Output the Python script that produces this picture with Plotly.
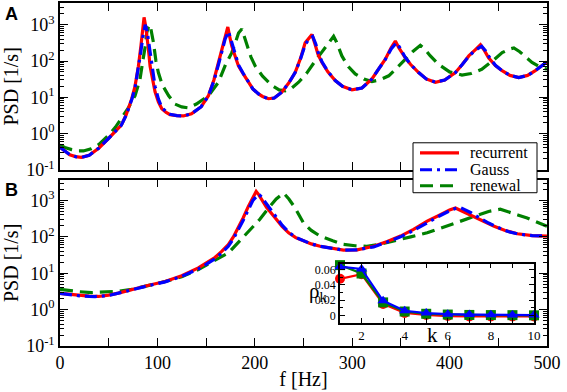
import plotly.graph_objects as go

# ---------------- Panel A data ----------------
fA_rec = [0, 5, 10, 16, 22, 30, 40, 50, 58, 63, 68, 73.6, 77, 80.5, 83, 84.6, 86.3, 88, 89, 90.5, 92.5, 95, 97.6, 101, 104.5, 109, 113, 120, 126.7, 135, 145, 152.4, 158, 162.7, 166, 169.5, 172.3, 174, 176.4, 180, 183.3, 188, 193.5, 198, 203.8, 208, 214, 220, 227.7, 235, 241.4, 247, 251.7, 255, 258.7, 262, 265, 269, 275, 282.6, 290, 299.7, 310, 320.3, 327, 334, 340, 344.3, 348, 354.5, 360, 368.2, 376, 385.4, 395, 406, 413, 419.7, 426, 431.7, 436, 440, 447, 453.9, 462, 471, 480, 488, 495, 500]
pA_rec = [0.42, 0.32, 0.26, 0.23, 0.22, 0.25, 0.40, 0.74, 1.2, 1.7, 3.3, 9, 20, 72, 250, 600, 1600, 900, 600, 250, 72, 28, 14, 7.5, 4.8, 3.8, 3.3, 3.1, 3.05, 3.5, 5.5, 11, 30, 91, 190, 480, 870, 500, 257, 130, 72, 45, 26, 17, 12.3, 10.5, 9.1, 9.5, 13.8, 25, 48, 120, 316, 420, 535, 280, 150, 91, 50, 29, 20, 16, 18, 32, 60, 112, 230, 355, 230, 123, 80, 48, 32, 26, 30, 48, 80, 138, 200, 280, 190, 123, 75, 54, 40, 35, 40, 54, 75, 95]

fA_gau = [0, 5, 10, 16, 22, 30, 40, 50, 58, 63, 68, 73.6, 77, 80.5, 83, 85, 87.5, 89.5, 91, 93, 95, 97.6, 101, 104.5, 109, 113, 120, 126.7, 135, 145, 152.4, 158, 162.7, 166, 169.5, 173, 175, 177, 180, 183.3, 188, 193.5, 198, 203.8, 208, 214, 220, 227.7, 235, 241.4, 247, 251.7, 255, 259.5, 262.5, 265.5, 269, 275, 282.6, 290, 299.7, 310, 320.3, 327, 334, 340, 345.5, 349, 354.5, 360, 368.2, 376, 385.4, 395, 406, 413, 419.7, 426, 433, 437, 441, 447, 453.9, 462, 471, 480, 488, 495, 500]
pA_gau = [0.42, 0.32, 0.26, 0.23, 0.22, 0.25, 0.40, 0.74, 1.2, 1.7, 3.2, 8.5, 18, 60, 180, 450, 1000, 650, 330, 130, 50, 20, 9, 5.2, 4.0, 3.4, 3.1, 3.05, 3.5, 5.5, 11, 28, 80, 170, 400, 650, 420, 260, 140, 78, 46, 26, 17, 12.3, 10.5, 9.1, 9.5, 13.8, 25, 48, 115, 280, 380, 470, 300, 160, 95, 52, 29, 20, 16, 18, 32, 60, 110, 215, 320, 230, 125, 80, 48, 32, 26, 30, 48, 80, 135, 195, 255, 190, 125, 76, 54, 40, 35, 40, 54, 75, 95]

fA_ren = [0, 5, 12, 18, 24, 32, 40, 50, 57, 63.4, 70, 77, 82, 85.3, 87.5, 89, 90.8, 92.5, 94, 96, 98.5, 101, 105, 111.6, 118, 125, 131.9, 140, 152.4, 162.7, 170, 176.4, 180, 183.3, 186.7, 189, 191.9, 196, 200.5, 208, 217.6, 225, 231.3, 238, 245, 253, 262, 270, 275.8, 280.9, 284, 289.4, 296, 303.1, 312, 320.3, 328, 337.5, 346, 354.6, 362, 370, 374, 380, 388.6, 400, 412.7, 422, 433, 444, 454, 461, 466, 472, 478, 484.6, 492, 500]
pA_ren = [0.48, 0.41, 0.36, 0.33, 0.33, 0.38, 0.5, 0.9, 1.5, 2.6, 5, 11, 30, 112, 250, 600, 850, 1000, 600, 316, 100, 48, 22, 11, 6.5, 5.4, 5.1, 6.5, 11, 26, 80, 170, 320, 590, 760, 500, 316, 130, 72, 38, 21, 16, 15, 18, 26, 45, 100, 200, 316, 480, 330, 138, 70, 44, 32, 27, 30, 39, 65, 112, 180, 270, 220, 140, 81, 50, 41, 45, 59, 100, 170, 210, 230, 180, 130, 91, 70, 59]

# ---------------- Panel B data ----------------
fB_rec = [0, 10, 20, 30, 39.4, 50, 60, 73.6, 90, 107.9, 125, 142, 150, 159, 166, 172.8, 178, 183, 188, 193.4, 197, 201.4, 204, 207.3, 212, 221, 228, 234.7, 242, 250, 258, 267, 280, 291, 305, 322, 336, 349.6, 363, 377, 390, 400, 406, 412, 418, 425, 435, 445.7, 457, 469.6, 485, 500]
pB_rec = [2.8, 2.6, 2.45, 2.35, 2.3, 2.5, 2.85, 3.6, 4.6, 5.9, 8.5, 14, 19, 27, 40, 61, 100, 177, 330, 690, 1100, 1770, 1450, 1050, 650, 330, 195, 129, 95, 78, 64, 55, 47, 43, 44, 55, 75, 105, 160, 270, 400, 550, 620, 520, 440, 363, 260, 195, 150, 122, 108, 105]

fB_gau = [0, 10, 20, 30, 36, 50, 60, 73.6, 90, 107.9, 125, 142, 150, 159, 166, 172.8, 178, 183, 188, 193.4, 198, 204, 207, 210, 214, 221, 228, 234.7, 242, 250, 258, 267, 280, 291, 305, 322, 336, 349.6, 363, 377, 390, 400, 406, 411, 416, 422, 430, 440, 450, 460, 470, 485, 500]
pB_gau = [2.8, 2.55, 2.4, 2.3, 2.28, 2.45, 2.8, 3.5, 4.5, 5.8, 8.2, 13, 17.5, 25, 36, 55, 88, 150, 280, 560, 1000, 1500, 1250, 950, 700, 380, 210, 135, 97, 78, 64, 55, 47, 43, 44, 53, 72, 100, 150, 250, 380, 520, 600, 640, 560, 460, 340, 240, 180, 140, 120, 108, 105]

fB_ren = [0, 10, 20, 32.5, 45, 60, 73.6, 90, 108, 125, 142, 158, 172.8, 185, 193.4, 205, 214, 222, 229.5, 235, 241.5, 250, 258, 267, 280, 291, 303, 315, 328, 342.7, 360, 377, 395, 411, 425, 440, 452, 462, 470, 479.6, 490, 500]
pB_ren = [3.6, 3.3, 3.1, 2.95, 3.0, 3.2, 3.6, 4.5, 5.9, 8.0, 12.6, 22, 36, 80, 141, 300, 616, 1100, 1600, 1100, 616, 240, 150, 105, 78, 62, 57, 55, 62, 76, 100, 129, 190, 270, 380, 500, 575, 480, 400, 331, 250, 195]

# ---------------- Inset data ----------------
k_lag = [1, 2, 3, 4, 5, 6, 7, 8, 9, 10]
rho_rec = [0.048, 0.054, 0.015, 0.003, 0.0005, -0.001, -0.0015, -0.0015, -0.0015, -0.0015]
rho_ren = [0.066, 0.055, 0.017, 0.005, 0.002, 0.001, 0.0005, 0.0003, 0.0002, 0.0]
rho_gau = [0.064, 0.061, 0.019, 0.006, 0.003, 0.0015, 0.001, 0.0008, 0.0005, 0.0003]

# tick labels
psd_tickvals = [0.1, 1, 10, 100, 1000]
psd_ticktext = ["10<sup>-1</sup>", "10<sup>0</sup>", "10<sup>1</sup>", "10<sup>2</sup>", "10<sup>3</sup>"]
f_tickvals = [0, 100, 200, 300, 400, 500]
k_tickvals = [2, 4, 6, 8, 10]
rho_tickvals = [0, 0.02, 0.04, 0.06]
rho_ticktext = ["0", "0.02", "0.04", "0.06"]
legend_names = ["recurrent", "Gauss", "renewal"]

RED = "#ff0000"
BLUE = "#0000ff"
GREEN = "#008000"
SERIF = "Liberation Serif"
DASH_REN = "13px,7px"
DASH_GAU = "12px,5px,3px,5px"

fig = go.Figure()

def add_panel(xa, ya, f_r, p_r, f_g, p_g, f_n, p_n):
    fig.add_trace(go.Scatter(x=f_n, y=p_n, mode="lines", name="renewal",
                             line=dict(color=GREEN, width=3.2, dash=DASH_REN),
                             xaxis=xa, yaxis=ya, showlegend=False))
    fig.add_trace(go.Scatter(x=f_r, y=p_r, mode="lines", name="recurrent",
                             line=dict(color=RED, width=3.2),
                             xaxis=xa, yaxis=ya, showlegend=False))
    fig.add_trace(go.Scatter(x=f_g, y=p_g, mode="lines", name="Gauss",
                             line=dict(color=BLUE, width=3.2, dash=DASH_GAU),
                             xaxis=xa, yaxis=ya, showlegend=False))

add_panel("x", "y", fA_rec, pA_rec, fA_gau, pA_gau, fA_ren, pA_ren)
add_panel("x2", "y2", fB_rec, pB_rec, fB_gau, pB_gau, fB_ren, pB_ren)

# inset
for kv, rv, col, sym in [(k_lag, rho_rec, RED, "circle"),
                         (k_lag, rho_ren, GREEN, "square"),
                         (k_lag, rho_gau, BLUE, "triangle-up")]:
    fig.add_trace(go.Scatter(x=kv, y=rv, mode="lines+markers",
                             line=dict(color=col, width=2.2),
                             marker=dict(color=col, symbol=sym, size=10),
                             xaxis="x3", yaxis="y3", showlegend=False, cliponaxis=False))

axis_common = dict(showline=True, linecolor="black", linewidth=1.5, mirror="allticks",
                   ticks="inside", ticklen=8, tickcolor="black", tickwidth=1.2,
                   showgrid=False, zeroline=False, automargin=False,
                   tickfont=dict(family=SERIF, size=18, color="black"))

xcommon = dict(axis_common, range=[0, 500], tickvals=f_tickvals,
               minor=dict(dtick=50, tick0=0, ticks="inside", ticklen=8, tickcolor="black", tickwidth=1.2))
ycommon = dict(axis_common, type="log", tickvals=psd_tickvals, ticktext=psd_ticktext,
               minor=dict(ticks="inside", ticklen=4, tickcolor="black", tickwidth=1, dtick="D1"),
               title=dict(text="PSD [1/s]", font=dict(family=SERIF, size=20, color="black"), standoff=4))

PLOT_L, PLOT_R, PLOT_T, PLOT_B = 60, 547, 3, 346.5
W, H = 567, 392
PW, PH = PLOT_R - PLOT_L, PLOT_B - PLOT_T

def px(x):
    return (x - PLOT_L) / PW

def py(y):
    return (PLOT_B - y) / PH

fig.update_layout(
    width=W, height=H,
    margin=dict(l=PLOT_L, r=W - PLOT_R, t=PLOT_T, b=H - PLOT_B),
    paper_bgcolor="white", plot_bgcolor="white",
    font=dict(family=SERIF, color="black"),
    xaxis=dict(xcommon, domain=[0, 1], anchor="y", showticklabels=False),
    yaxis=dict(ycommon, domain=[py(170), 1], anchor="x", range=[-1, 3.6]),
    xaxis2=dict(xcommon, domain=[0, 1], anchor="y2",
                title=dict(text="f [Hz]", font=dict(family=SERIF, size=20, color="black"), standoff=0)),
    yaxis2=dict(ycommon, domain=[0, py(180)], anchor="x2", range=[-1, 3.57]),
    xaxis3=dict(showline=True, linecolor="black", linewidth=1.5, mirror="allticks",
                ticks="inside", ticklen=5, tickcolor="black", showgrid=False, zeroline=False,
                automargin=False,
                domain=[px(340), px(534)], anchor="y3",
                range=[1, 10], tickvals=k_tickvals,
                minor=dict(dtick=1, tick0=1, ticks="inside", ticklen=5, tickcolor="black"),
                tickfont=dict(family=SERIF, size=13, color="black")),
    yaxis3=dict(showline=True, linecolor="black", linewidth=1.5, mirror="allticks",
                ticks="inside", ticklen=5, tickcolor="black", showgrid=False, zeroline=False,
                automargin=False,
                domain=[py(323), py(264)], anchor="x3",
                range=[-0.0095, 0.068], tickvals=rho_tickvals, ticktext=rho_ticktext,
                minor=dict(dtick=0.01, tick0=0, ticks="inside", ticklen=3, tickcolor="black"),
                tickfont=dict(family=SERIF, size=12, color="black")),
    showlegend=False,
)

# manual legend box
fig.add_shape(type="rect", xref="paper", yref="paper",
              x0=px(413), x1=px(537), y0=py(193), y1=py(143),
              line=dict(color="black", width=1), fillcolor="white", layer="above")
leg_y = [153, 170, 186]
leg_style = [dict(color=RED, width=3.2), dict(color=BLUE, width=3.2, dash=DASH_GAU),
             dict(color=GREEN, width=3.2, dash=DASH_REN)]
for name, yy, st in zip(legend_names, leg_y, leg_style):
    fig.add_shape(type="line", xref="paper", yref="paper",
                  x0=px(420), x1=px(459), y0=py(yy), y1=py(yy), line=st, layer="above")
    fig.add_annotation(text=name, xref="paper", yref="paper", x=px(468), y=py(yy),
                       showarrow=False, xanchor="left", yanchor="middle",
                       font=dict(family=SERIF, size=16, color="black"))

for lab, xx, yy in [("<b>A</b>", 11, 14), ("<b>B</b>", 11, 190)]:
    fig.add_annotation(text=lab, xref="paper", yref="paper", x=px(xx), y=py(yy),
                       showarrow=False, xanchor="center", yanchor="middle",
                       font=dict(family="Liberation Sans", size=18, color="black"))
fig.add_annotation(text="ρ<sub>k</sub>", xref="paper", yref="paper",
                   x=px(318), y=py(292), showarrow=False,
                   xanchor="center", yanchor="middle",
                   font=dict(family=SERIF, size=21, color="black"))
fig.add_annotation(text="k", xref="paper", yref="paper",
                   x=px(432), y=py(335), showarrow=False,
                   xanchor="center", yanchor="middle",
                   font=dict(family=SERIF, size=21, color="black"))

fig.write_html("out.html", config={"displayModeBar": False},
               post_script="document.body.style.margin='0';document.body.style.padding='0';")
